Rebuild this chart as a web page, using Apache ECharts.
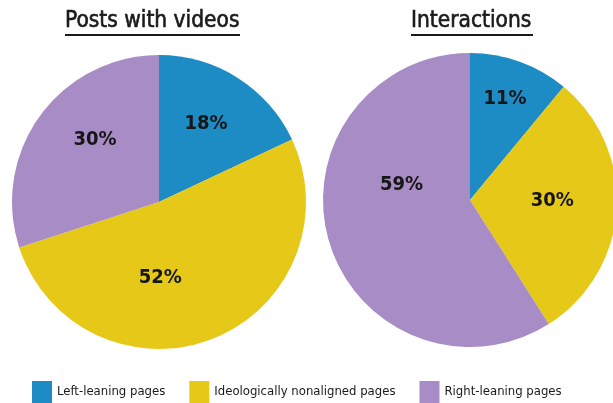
<!DOCTYPE html>
<html>
<head>
<meta charset="utf-8">
<script src="https://cdn.jsdelivr.net/npm/echarts@6/dist/echarts.min.js"></script>
<style>
  html, body { margin: 0; padding: 0; background: #fff; }
  #chart { width: 613px; height: 403px; }
</style>
</head>
<body>
<div id="chart"></div>
<script>
// Share of posts with videos and of interactions, by page leaning
const categories = ['Left-leaning pages', 'Ideologically nonaligned pages', 'Right-leaning pages'];
const postsWithVideos = [18, 52, 30];
const interactions = [11, 30, 59];
const colors = ['#1d8bc4', '#e6c918', '#a88cc6'];
const titles = ['Posts with videos', 'Interactions'];

const FONT = '"DejaVu Sans Condensed", "DejaVu Sans", sans-serif';

// per-slice nudges for the percentage labels (dx, dy in px)
const labelNudge = [
  [[6, -14], [-27, 5], [-2, -17]],
  [[9, -29], [6, -4], [5, -37]]
];

function pieSeries(values, center, idx) {
  return {
    type: 'pie',
    name: titles[idx],
    center: center,
    radius: 147,
    startAngle: 90,
    clockwise: true,
    silent: true,
    label: {
      show: true,
      position: 'inside',
      formatter: '{c}%',
      color: '#161616',
      fontFamily: FONT,
      fontWeight: 'bold',
      fontSize: 20
    },
    labelLine: { show: false },
    labelLayout: function (p) {
      const n = labelNudge[idx][p.dataIndex];
      return { dx: n[0], dy: n[1] };
    },
    data: values.map((v, i) => ({
      name: categories[i],
      value: v,
      itemStyle: { color: colors[i] }
    }))
  };
}

const titleStyle = {
  fontFamily: FONT, fontSize: 22.5, fontWeight: 'normal', color: '#1a1a1a',
  textBorderColor: '#1a1a1a', textBorderWidth: 0.6
};

const chart = echarts.init(document.getElementById('chart'), null, { renderer: 'canvas' });
chart.setOption({
  animation: false,
  backgroundColor: '#ffffff',
  title: [
    { text: titles[0], left: 65, top: 10, padding: 0, textStyle: titleStyle },
    { text: titles[1], left: 411, top: 10, padding: 0, textStyle: titleStyle }
  ],
  legend: {
    top: 381,
    left: 32,
    padding: 0,
    icon: 'rect',
    itemWidth: 20,
    itemHeight: 22,
    itemGap: 24,
    selectedMode: false,
    data: categories,
    textStyle: { fontFamily: FONT, fontSize: 13, color: '#1a1a1a' }
  },
  graphic: [
    { type: 'line', shape: { x1: 65, y1: 35, x2: 240, y2: 35 }, style: { stroke: '#1a1a1a', lineWidth: 2 } },
    { type: 'line', shape: { x1: 411, y1: 35, x2: 533, y2: 35 }, style: { stroke: '#1a1a1a', lineWidth: 2 } }
  ],
  series: [
    pieSeries(postsWithVideos, [159, 202], 0),
    pieSeries(interactions, [470, 200], 1)
  ]
});
</script>
</body>
</html>
